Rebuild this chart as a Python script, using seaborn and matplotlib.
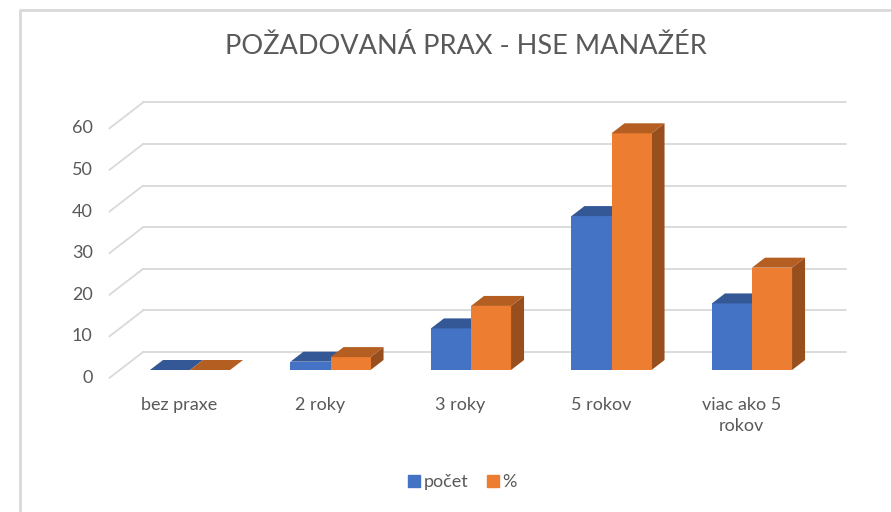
import matplotlib.pyplot as plt
import numpy as np
import pandas as pd
import seaborn as sns
from matplotlib.lines import Line2D
from matplotlib.patches import Polygon

# data
kategorie = ["bez praxe", "2 roky", "3 roky", "5 rokov", "viac ako 5\nrokov"]
pocet = [0, 2, 10, 37, 16]
percenta = [0, 3.1, 15.4, 56.9, 24.6]
serie = ["počet", "%"]
y_ticks = [0, 10, 20, 30, 40, 50, 60]

farby_predok = ["#4472C4", "#ED7D31"]
farby_vrch = ["#345896", "#B55E22"]
farby_bok = ["#2E4F87", "#984F1D"]
siva = "#595959"
mriezka = "#D9D9D9"

df = pd.DataFrame({
    "kategoria": kategorie * 2,
    "hodnota": pocet + percenta,
    "seria": [serie[0]] * len(kategorie) + [serie[1]] * len(kategorie),
})

sns.set_style("white")
plt.rcParams["font.family"] = ["Lato", "DejaVu Sans"]

W, H = 891, 512
fig = plt.figure(figsize=(W / 100, H / 100), dpi=100)
ax = fig.add_axes([119.75 / W, (H - 386.64) / H, 702.5 / W, 307.84 / H])

# 3D hlbka v datovych jednotkach
DX = 13 / 140.5
DY = 10 / 4.16
D_ZADNA = 1.8
D_PREDNA = -0.8

sns.barplot(data=df, x="kategoria", y="hodnota", hue="seria", palette=farby_predok,
            saturation=1, width=0.57, gap=0, legend=False, ax=ax, zorder=3)
ax.set_xlim(-0.5, 4.5)
ax.set_ylim(-4, 70)
ax.axis("off")

# zadna stena + diagonaly
x_l = -0.5 + D_ZADNA * DX
x_r = 4.5 + D_ZADNA * DX
for v in y_ticks:
    yb = v + D_ZADNA * DY
    ax.plot([x_l, x_r], [yb, yb], color=mriezka, lw=1.3, zorder=1, clip_on=False)
    ax.plot([x_l, -0.5 + D_PREDNA * DX], [yb, v + D_PREDNA * DY], color=mriezka, lw=1.3,
            zorder=1, clip_on=False)
    ax.annotate(str(v), xy=(-0.5 + D_PREDNA * DX, v + D_PREDNA * DY), xytext=(-12, 0),
                textcoords="offset points", ha="right", va="center", fontsize=13,
                color=siva, annotation_clip=False)

# vrchy a boky stlpcov
n = len(kategorie)
for k, p in enumerate(ax.patches):
    s = k // n
    p.set_zorder(3 + s)
    p.set_edgecolor("none")
    x0, w, h = p.get_x(), p.get_width(), p.get_height()
    vrch = Polygon([(x0, h), (x0 + w, h), (x0 + w + DX, h + DY), (x0 + DX, h + DY)],
                   closed=True, facecolor=farby_vrch[s], edgecolor="none",
                   zorder=3.5 + s, clip_on=False)
    bok = Polygon([(x0 + w, 0), (x0 + w, h), (x0 + w + DX, h + DY), (x0 + w + DX, DY)],
                  closed=True, facecolor=farby_bok[s], edgecolor="none",
                  zorder=2.9 + s, clip_on=False)
    ax.add_patch(vrch)
    ax.add_patch(bok)

# popisy kategorii
for i, lab in enumerate(kategorie):
    ax.annotate(lab, xy=(i + D_PREDNA * DX, D_PREDNA * DY), xytext=(0, -14),
                textcoords="offset points", ha="center", va="top", fontsize=13,
                color=siva, linespacing=1.35, annotation_clip=False)

# titulok
fig.text(466 / W, 1 - 47 / H, "POŽADOVANÁ PRAX - HSE MANAŽÉR", ha="center", va="center",
         fontsize=19.5, color=siva)

# legenda
handles = [Line2D([], [], marker="s", linestyle="none", markersize=8,
                  markerfacecolor=c, markeredgecolor=c) for c in farby_predok]
fig.legend(handles, serie, loc="center", bbox_to_anchor=(462 / W, 1 - 482 / H), ncol=2,
           frameon=False, fontsize=13, labelcolor=siva, handletextpad=0.1,
           columnspacing=1.0, handlelength=0.8)

# okraj grafu
fig.add_artist(Line2D([20 / W, 20 / W, 1], [0, 1 - 10 / H, 1 - 10 / H],
                      transform=fig.transFigure, color=mriezka, lw=2))

fig.savefig("out.png", dpi=100)
